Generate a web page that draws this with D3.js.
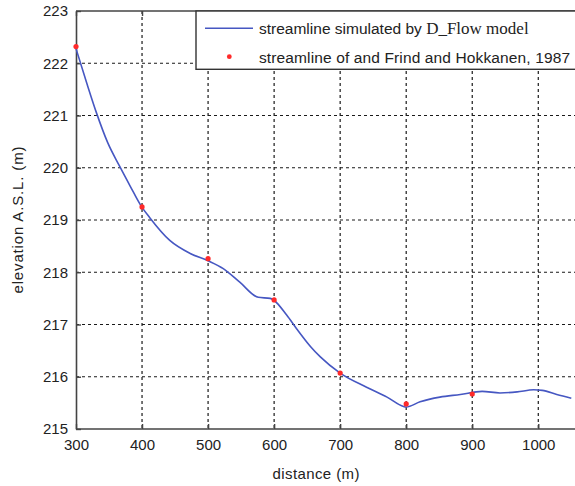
<!DOCTYPE html>
<html>
<head>
<meta charset="utf-8">
<script src="https://cdn.jsdelivr.net/npm/d3@7"></script>
<style>
  html, body { margin: 0; padding: 0; background: #fff; overflow: hidden; }
  svg { display: block; }
  text { font-family: "Liberation Sans", Arial, sans-serif; fill: #222; }
</style>
</head>
<body>
<svg id="chart" width="575" height="486"></svg>
<script>
// ---- data ----
const xTicks = [300, 400, 500, 600, 700, 800, 900, 1000];
const yTicks = [215, 216, 217, 218, 219, 220, 221, 222, 223];

// simulated streamline (D_Flow model)
const simDistance = [300, 316, 331, 348, 366, 382, 398, 412, 442, 473, 500, 523, 548, 576, 594, 600,
  619, 634, 655, 670, 700, 740, 771, 796, 800, 821, 851, 882, 915, 942, 968, 993, 1006, 1028, 1050];
const simElevation = [222.28, 221.63, 221.05, 220.48, 220.03, 219.65, 219.28, 219.04, 218.61, 218.36, 218.22,
  218.07, 217.81, 217.52, 217.50, 217.46, 217.18, 216.92, 216.58, 216.38, 216.07, 215.80, 215.61, 215.43,
  215.42, 215.52, 215.61, 215.66, 215.72, 215.69, 215.71, 215.75, 215.74, 215.66, 215.59];

// Frind and Hokkanen, 1987
const refDistance = [300, 400, 500, 600, 700, 800, 900];
const refElevation = [222.32, 219.25, 218.26, 217.47, 216.07, 215.48, 215.67];

const legendLabels = ["streamline simulated by ", "D_Flow model", "streamline of and Frind and Hokkanen, 1987"];
const xTitle = "distance (m)";
const yTitle = "elevation A.S.L. (m)";

// ---- layout ----
const svg = d3.select("#chart");
const plotLeft = 76, plotTop = 11, plotBottom = 429;
const x = d3.scaleLinear().domain([300, 1050]).range([plotLeft, 571.3]);
const y = d3.scaleLinear().domain([215, 223]).range([plotBottom, plotTop]);
const rightEdge = x(1065);

// grid
const grid = svg.append("g").attr("stroke", "#1a1a1a").attr("stroke-width", 1.2)
  .attr("stroke-dasharray", "3,3").attr("fill", "none");
grid.selectAll(".vg").data(xTicks.filter(d => d > 300)).join("line")
  .attr("x1", d => x(d)).attr("x2", d => x(d)).attr("y1", plotTop).attr("y2", plotBottom);
grid.selectAll(".hg").data(yTicks.filter(d => d > 215 && d < 223)).join("line")
  .attr("x1", plotLeft).attr("x2", rightEdge).attr("y1", d => y(d)).attr("y2", d => y(d));

// axes
const axisColor = "#444";
const gx = svg.append("g").attr("transform", `translate(0,${plotBottom})`)
  .call(d3.axisBottom(x).tickValues(xTicks).tickFormat(d3.format("d"))
    .tickSize(-5).tickPadding(10).tickSizeOuter(0));
const gy = svg.append("g").attr("transform", `translate(${plotLeft},0)`)
  .call(d3.axisLeft(y).tickValues(yTicks).tickFormat(d3.format("d"))
    .tickSize(-5).tickPadding(8).tickSizeOuter(0));
const gt = svg.append("g").attr("transform", `translate(0,${plotTop})`)
  .call(d3.axisTop(x).tickValues(xTicks).tickSize(-5).tickFormat("").tickSizeOuter(0));
[gx, gy, gt].forEach(g => {
  g.select(".domain").attr("stroke", axisColor).attr("stroke-width", 1.6);
  g.selectAll(".tick line").attr("stroke", axisColor).attr("stroke-width", 1.4);
  g.selectAll(".tick text").attr("font-size", 15).attr("fill", "#222")
    .attr("font-family", "'Liberation Sans', Arial, sans-serif");
});
gx.select(".domain").attr("d", `M${plotLeft},0H${rightEdge}`);
gt.select(".domain").attr("d", `M${plotLeft},0H${rightEdge}`);

// simulated line
const sim = simDistance.map((d, i) => [d, simElevation[i]]);
svg.append("path").datum(sim)
  .attr("fill", "none").attr("stroke", "#4657c2").attr("stroke-width", 1.6)
  .attr("d", d3.line().curve(d3.curveMonotoneX).x(d => x(d[0])).y(d => y(d[1])));

// reference points
svg.selectAll(".pt").data(refDistance.map((d, i) => [d, refElevation[i]])).join("circle")
  .attr("cx", d => x(d[0])).attr("cy", d => y(d[1])).attr("r", 2.6).attr("fill", "#ff2a2a");

// legend
const lg = svg.append("g");
lg.append("rect").attr("x", 196).attr("y", plotTop).attr("width", 400).attr("height", 69.3 - plotTop)
  .attr("fill", "#fff").attr("stroke", "#333").attr("stroke-width", 1.4);
lg.append("line").attr("x1", 205).attr("x2", 253).attr("y1", 28.3).attr("y2", 28.3)
  .attr("stroke", "#4657c2").attr("stroke-width", 1.6);
const t1 = lg.append("text").attr("x", 259).attr("y", 33.5).attr("font-size", 15.5);
t1.append("tspan").text(legendLabels[0]);
t1.append("tspan").attr("font-family", "'Liberation Serif', 'Times New Roman', serif")
  .attr("font-size", 17).text(legendLabels[1]);
lg.append("circle").attr("cx", 229.3).attr("cy", 56.7).attr("r", 2.4).attr("fill", "#ff2a2a");
lg.append("text").attr("x", 259).attr("y", 62.5).attr("font-size", 15.5)
  .attr("textLength", 311).attr("lengthAdjust", "spacing").text(legendLabels[2]);

// axis titles
svg.append("text").attr("x", 316).attr("y", 479).attr("text-anchor", "middle")
  .attr("font-size", 15).attr("textLength", 87).attr("lengthAdjust", "spacing").text(xTitle);
svg.append("text").attr("transform", `translate(23,${(plotTop + plotBottom) / 2}) rotate(-90)`)
  .attr("text-anchor", "middle").attr("font-size", 15)
  .attr("textLength", 147).attr("lengthAdjust", "spacing").text(yTitle);
</script>
</body>
</html>
